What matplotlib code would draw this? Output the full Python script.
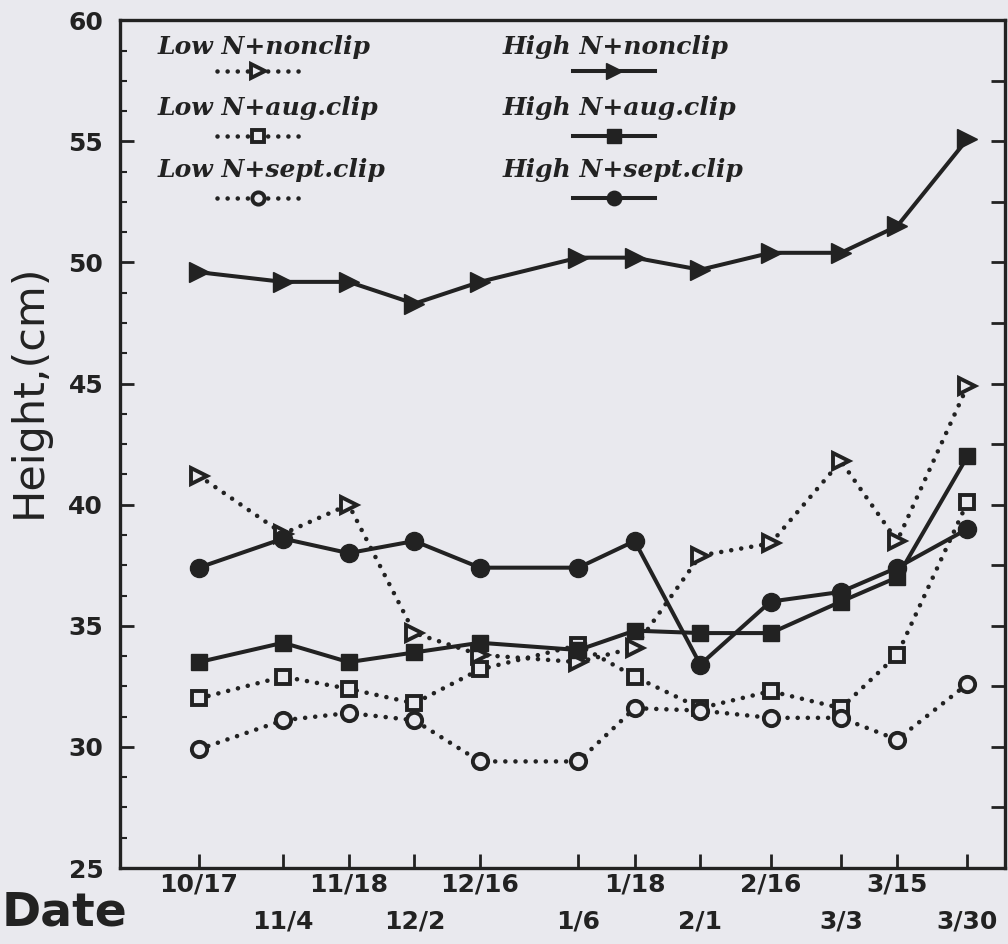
import matplotlib
matplotlib.use('Agg')
import matplotlib.pyplot as plt
from matplotlib.ticker import MultipleLocator
from matplotlib.lines import Line2D

# sampling dates and days elapsed since 10/17
dates = ['10/17', '11/4', '11/18', '12/2', '12/16', '1/6', '1/18', '2/1', '2/16', '3/3', '3/15', '3/30']
days = [0, 18, 32, 46, 60, 81, 93, 107, 122, 137, 149, 164]

# plant height (cm)
low_nonclip = [41.2, 38.8, 40.0, 34.7, 33.8, 33.5, 34.1, 37.9, 38.4, 41.8, 38.5, 44.9]
low_aug = [32.0, 32.9, 32.4, 31.8, 33.2, 34.2, 32.9, 31.6, 32.3, 31.6, 33.8, 40.1]
low_sept = [29.9, 31.1, 31.4, 31.1, 29.4, 29.4, 31.6, 31.5, 31.2, 31.2, 30.3, 32.6]
high_nonclip = [49.6, 49.2, 49.2, 48.3, 49.2, 50.2, 50.2, 49.7, 50.4, 50.4, 51.5, 55.1]
high_aug = [33.5, 34.3, 33.5, 33.9, 34.3, 34.0, 34.8, 34.7, 34.7, 36.0, 37.0, 42.0]
high_sept = [37.4, 38.6, 38.0, 38.5, 37.4, 37.4, 38.5, 33.4, 36.0, 36.4, 37.4, 39.0]

labels = ['Low N+nonclip', 'Low N+aug.clip', 'Low N+sept.clip',
          'High N+nonclip', 'High N+aug.clip', 'High N+sept.clip']

BG = '#e9e9ee'
INK = '#222222'

dotted = dict(linestyle=(0, (0.01, 2.2)), dash_capstyle='round', lw=3.3, color=INK)
solid = dict(linestyle='-', lw=2.9, color=INK)
open_mk = dict(markerfacecolor=BG, markeredgecolor=INK, markeredgewidth=2.8)
fill_mk = dict(markerfacecolor=INK, markeredgecolor=INK, markeredgewidth=1)

line_styles = [dotted, dotted, dotted, solid, solid, solid]
markers = [
    dict(open_mk, marker='>', ms=12),
    dict(open_mk, marker='s', ms=10),
    dict(open_mk, marker='o', ms=11),
    dict(fill_mk, marker='>', ms=15),
    dict(fill_mk, marker='s', ms=12),
    dict(fill_mk, marker='o', ms=13),
]
series = [low_nonclip, low_aug, low_sept, high_nonclip, high_aug, high_sept]

fig = plt.figure(figsize=(10.08, 9.44), dpi=100, facecolor=BG)
ax = fig.add_axes([0.119, 0.0805, 0.878, 0.898])
ax.set_facecolor(BG)

for vals, ls, mk in zip(series, line_styles, markers):
    ax.plot(days, vals, zorder=3, **ls, **mk)

ax.set_xlim(-16.8, 172)
ax.set_ylim(25, 60)

for s in ax.spines.values():
    s.set_linewidth(2.4)
    s.set_color(INK)

# y ticks
ax.yaxis.set_major_locator(MultipleLocator(5))
ax.yaxis.set_minor_locator(MultipleLocator(1.25))
ax.tick_params(axis='y', which='major', direction='in', length=10, width=2, color=INK,
               pad=12, labelsize=18, labelcolor=INK)
ax.tick_params(axis='y', which='minor', direction='in', length=5, width=1.5, color=INK)
for t in ax.get_yticklabels():
    t.set_fontweight('bold')

# x ticks, labels staggered on two rows
ax.set_xticks(days[0::2], dates[0::2])
ax.set_xticks(days[1::2], dates[1::2], minor=True)
ax.tick_params(axis='x', which='both', direction='in', length=10, width=2, color=INK,
               labelsize=18, labelcolor=INK)
ax.tick_params(axis='x', which='major', pad=3)
ax.tick_params(axis='x', which='minor', pad=30)
for t in ax.get_xticklabels() + ax.get_xticklabels(minor=True):
    t.set_fontweight('bold')

# right side ticks
axr = ax.twinx()
axr.set_ylim(25, 60)
axr.yaxis.set_major_locator(MultipleLocator(2.5))
axr.tick_params(axis='y', direction='in', length=10, width=2, color=INK, labelright=False)
for s in axr.spines.values():
    s.set_visible(False)

# legend: label above, short sample below
leg_x = [0.043, 0.432]
samp_cx = [0.156, 0.558]
text_y = [0.968, 0.896, 0.823]
samp_y = [0.940, 0.863, 0.790]
for i, lab in enumerate(labels):
    col, row = divmod(i, 3)
    ax.text(leg_x[col], text_y[row], lab, transform=ax.transAxes, ha='left', va='center',
            fontsize=18, fontstyle='italic', fontweight='bold',
            family=['DejaVu Serif'], color=INK)
    cx, cy = samp_cx[col], samp_y[row]
    ax.add_line(Line2D([cx - 0.046, cx + 0.046], [cy, cy], transform=ax.transAxes,
                       clip_on=False, **line_styles[i]))
    mk = dict(markers[i])
    mk['ms'] = mk['ms'] * 0.8
    ax.add_line(Line2D([cx], [cy], transform=ax.transAxes, linestyle='none',
                       clip_on=False, **mk))

fig.text(0.029, 0.586, 'Height,(cm)', rotation=90, ha='center', va='center',
         fontsize=31, color=INK)
fig.text(0.002, 0.033, 'Date', ha='left', va='center', fontsize=34,
         fontweight='bold', color=INK)

fig.savefig('out.png', dpi=100, facecolor=BG)
